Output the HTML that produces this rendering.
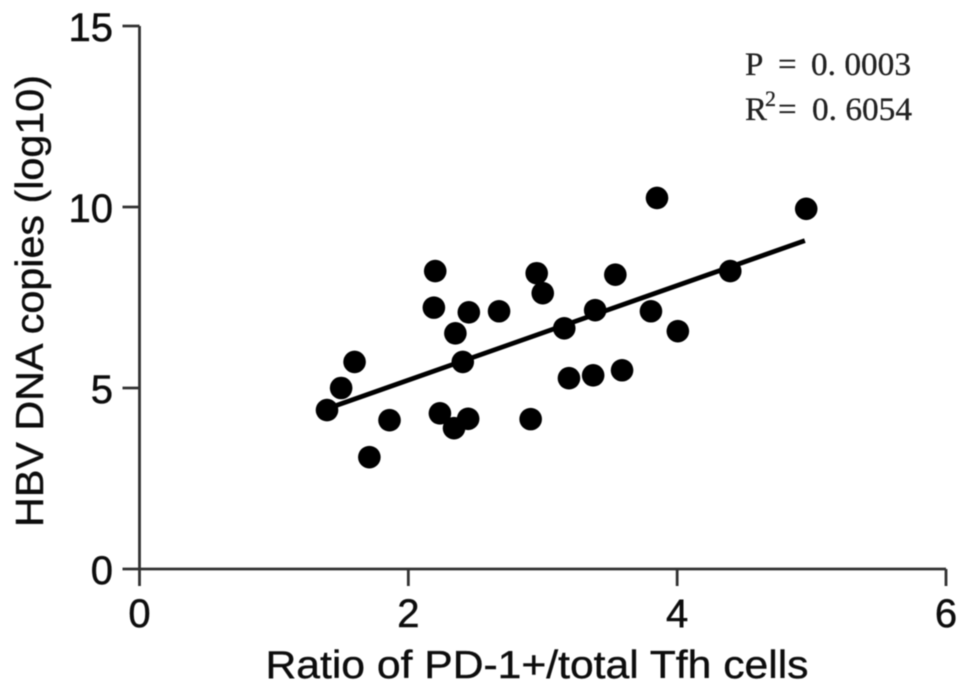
<!DOCTYPE html>
<html lang="en">
<head>
<meta charset="utf-8">
<title>HBV DNA copies vs PD-1+/total Tfh ratio</title>
<style>
html,body{margin:0;padding:0;background:#fff;width:969px;height:691px;overflow:hidden}
svg{display:block}
text{font-family:"Liberation Sans",sans-serif;fill:#111}
</style>
</head>
<body>
<svg id="chart" xmlns="http://www.w3.org/2000/svg" width="969" height="691" viewBox="0 0 969 691">
<defs><filter id="soft" x="-5%" y="-5%" width="110%" height="110%"><feGaussianBlur stdDeviation="0.55"/></filter></defs>
<g id="root" filter="url(#soft)"></g>
</svg>
<script>
const xTicks = [0, 2, 4, 6];
const yTicks = [0, 5, 10, 15];
const xValues = [1.395, 1.50, 1.60, 1.71, 1.86, 2.20, 2.19, 2.235, 2.35, 2.405, 2.34, 2.445, 2.45, 2.675, 2.91, 2.955, 3.00, 3.16, 3.195, 3.375, 3.39, 3.54, 3.59, 3.805, 3.85, 4.005, 4.395, 4.96];
const yValues = [4.39, 5.00, 5.72, 3.09, 4.11, 8.23, 7.22, 4.30, 6.51, 5.72, 3.89, 4.15, 7.09, 7.12, 4.14, 8.17, 7.62, 6.65, 5.27, 5.35, 7.15, 8.13, 5.49, 7.12, 10.25, 6.57, 8.23, 9.95];
const fitX = [1.45, 4.95];
const fitY = [4.5, 9.07];
const xAxisTitle = "Ratio of PD-1+/total Tfh cells";
const yAxisTitle = "HBV DNA copies (log10)";

const NS = "http://www.w3.org/2000/svg";
const root = document.getElementById("root");
function sx(v){ return 139.5 + v * (946 - 139.5) / 6; }
function sy(v){ return 569 - v * (569 - 26) / 15; }
function make(tag, attrs, text){
  const el = document.createElementNS(NS, tag);
  for (const k in attrs) el.setAttribute(k, attrs[k]);
  if (text !== undefined) el.textContent = text;
  root.appendChild(el);
  return el;
}
const axisStyle = {stroke:"#333","stroke-width":2.8,fill:"none"};

const xAxis = make("line", Object.assign({x1:sx(xTicks[0]),x2:sx(xTicks[xTicks.length-1]),y1:sy(0),y2:sy(0)}, axisStyle));


const yAxis = make("line", Object.assign({x1:sx(0),x2:sx(0),y1:sy(yTicks[0]),y2:sy(yTicks[yTicks.length-1])}, axisStyle));



xTicks.forEach(function(t){
  const tick = make("line", Object.assign({x1:sx(t),x2:sx(t),y1:sy(0),y2:sy(0)+17}, axisStyle));
  
  
  const label = make("text", {x:sx(t),y:627,"text-anchor":"middle","font-size":40,stroke:"#111","stroke-width":0.5}, String(t));
  
  
});
yTicks.forEach(function(t){
  const tick = make("line", Object.assign({x1:sx(0)-17,x2:sx(0),y1:sy(t),y2:sy(t)}, axisStyle));
  
  
  const label = make("text", {x:113,y:sy(t)+15,"text-anchor":"end","font-size":40,stroke:"#111","stroke-width":0.5}, String(t));
  
  
});

const xTitle = make("text", {x:537,y:678,"text-anchor":"middle","font-size":39,textLength:543,lengthAdjust:"spacingAndGlyphs",stroke:"#111","stroke-width":0.4}, xAxisTitle);


const yTitle = make("text", {x:0,y:0,"text-anchor":"middle","font-size":39,textLength:452,lengthAdjust:"spacingAndGlyphs",stroke:"#111","stroke-width":0.4,transform:"translate(43,301) rotate(-90)"}, yAxisTitle);



const fit = make("line", {x1:sx(fitX[0]),y1:sy(fitY[0]),x2:sx(fitX[1]),y2:sy(fitY[1]),stroke:"#000","stroke-width":4.8});



xValues.forEach(function(v,i){
  const p = make("circle", {cx:sx(v),cy:sy(yValues[i]),r:11.3,fill:"#000"});
  
  
});

const statStyle = {"font-size":33,stroke:"#222","stroke-width":0.3,style:'font-family:"Liberation Serif",serif;fill:#222'};
function stat(x,y,s,extra){ return make("text", Object.assign({x:x,y:y}, statStyle, extra||{}), s); }
[
  stat(745,75,"P"),
  stat(778,75,"="),
  stat(811,75,"0. 0003",{textLength:100,lengthAdjust:"spacingAndGlyphs"}),
  stat(745,120,"R"),
  stat(765,106,"2",{"font-size":22}),
  stat(778,120,"="),
  stat(812,120,"0. 6054",{textLength:100,lengthAdjust:"spacingAndGlyphs"})
].forEach(function(el){
  
  
});
</script>
</body>
</html>
